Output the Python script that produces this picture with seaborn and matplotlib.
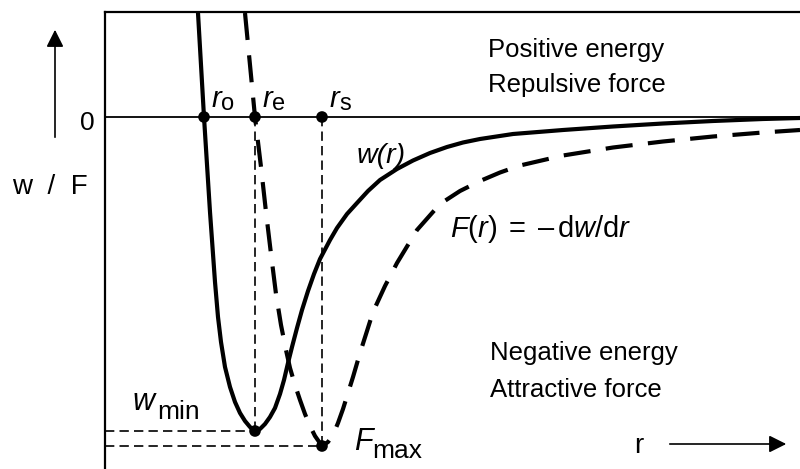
import matplotlib.pyplot as plt
import seaborn as sns

# values (r and energy in arbitrary, pixel-like units)
r_w = [198, 204, 210, 215, 218, 221, 225, 230, 235, 240, 245, 250, 255,
       260, 265, 270, 275, 280, 284, 288, 292, 297, 302, 308, 314, 320, 330,
       337, 347, 357, 368, 380, 397, 413, 430, 447, 463, 480, 513, 563, 613,
       663, 713, 763, 800]
w_vals = [104, 0, -95, -165, -200, -225, -250, -270, -285, -296, -304, -310, -314,
          -312, -307, -300, -291, -277, -263, -246, -230, -211, -193, -174, -157, -142, -123,
          -111, -97, -86, -74, -63, -52, -43.5, -36, -30, -25.5, -22, -17, -13, -9.5,
          -6.5, -4, -2, -1]

r_F = [245, 250, 255, 261, 266, 271, 276, 281, 286, 290, 295, 300, 305, 310, 315,
       322, 328, 333, 338, 343, 348, 353, 360, 367, 373, 385, 397, 417, 440, 460,
       480, 500, 520, 563, 613, 663, 713, 763, 800]
F_vals = [104, 52, 0, -50, -95, -137, -177, -208, -233, -251, -268, -283, -297, -309, -319,
          -329, -325, -318, -306, -292, -276, -260, -236, -214, -195, -169, -146, -113, -87, -74,
          -64, -55.5, -48.5, -38.5, -30.5, -24.5, -19.5, -15.5, -13]

r_o, r_e, r_s = 204, 255, 322
w_min = -314
F_max = -329
r_left = 105

sns.set_theme(style='white')
plt.rcParams['font.family'] = ['Liberation Sans', 'DejaVu Sans']
plt.rcParams['text.color'] = 'black'
plt.rcParams['mathtext.fontset'] = 'custom'
plt.rcParams['mathtext.rm'] = 'Liberation Sans'
plt.rcParams['mathtext.it'] = 'Liberation Sans:italic'

fig = plt.figure(figsize=(8, 4.69), dpi=100)
ax = fig.add_axes([105 / 800, 0, 695 / 800, 457 / 469])
ax.set_xlim(r_left, 800)
ax.set_ylim(-352, 105)
ax.set_xticks([])
ax.set_yticks([])
for side in ['right', 'bottom']:
    ax.spines[side].set_visible(False)
for side in ['left', 'top']:
    ax.spines[side].set_color('black')
    ax.spines[side].set_linewidth(1.6)

ax.axhline(0, color='black', lw=1.3, zorder=2)

sns.lineplot(x=r_w, y=w_vals, color='black', lw=3, sort=False, estimator=None,
             solid_joinstyle='round', ax=ax, zorder=3)
sns.lineplot(x=r_F, y=F_vals, color='black', lw=3, sort=False, estimator=None,
             linestyle=(0, (6.5, 3.7)), dash_capstyle='butt', ax=ax, zorder=3)

# thin guide lines
thin = dict(color='black', lw=1.2, linestyle=(0, (5.6, 3.1)), zorder=2)
ax.plot([r_e, r_e], [0, w_min], **thin)
ax.plot([r_s, r_s], [0, F_max], **thin)
ax.plot([r_left, r_e], [w_min, w_min], **thin)
ax.plot([r_left, r_s], [F_max, F_max], **thin)

sns.scatterplot(x=[r_o, r_e, r_s, r_e, r_s], y=[0, 0, 0, w_min, F_max], s=70,
                color='black', edgecolor='none', ax=ax, zorder=5)

# labels on the r axis
for rx, sub in [(r_o, 'o'), (r_e, 'e'), (r_s, 's')]:
    ax.text(rx + 8, 10, 'r', fontsize=21, style='italic', ha='left', va='baseline')
    ax.text(rx + 17, 7, sub, fontsize=17, ha='left', va='baseline')

ax.text(488, 60, 'Positive energy', fontsize=18.5, va='baseline')
ax.text(488, 25, 'Repulsive force', fontsize=18.5, va='baseline')
ax.text(490, -243, 'Negative energy', fontsize=18.5, va='baseline')
ax.text(490, -280, 'Attractive force', fontsize=18.5, va='baseline')

ax.text(357, -46, 'w(r)', fontsize=20.5, style='italic', va='baseline')
ax.text(450, -120, r'$F(r)\;=\;\mathrm{–}\,\mathrm{d}w/\mathrm{d}r$', fontsize=21,
        va='baseline')

ax.text(132, -293, 'w', fontsize=22, style='italic', va='baseline')
ax.text(157, -302, 'min', fontsize=19, va='baseline')
ax.text(354, -333, 'F', fontsize=22, style='italic', va='baseline')
ax.text(372, -341, 'max', fontsize=19, va='baseline')

ax.text(87, -6, '0', fontsize=19, ha='center', va='center')
ax.text(50, -70, 'w  /  F', fontsize=20, ha='center', va='center')
ax.text(634, -336, 'r', fontsize=20, ha='left', va='baseline')

ax.annotate('', xy=(55, 90), xytext=(55, -23), annotation_clip=False,
            arrowprops=dict(arrowstyle='-|>', color='black', lw=1.2, mutation_scale=26))
ax.annotate('', xy=(789, -327), xytext=(667, -327), annotation_clip=False,
            arrowprops=dict(arrowstyle='-|>', color='black', lw=1.2, mutation_scale=26))

fig.savefig('out.png', dpi=100)
